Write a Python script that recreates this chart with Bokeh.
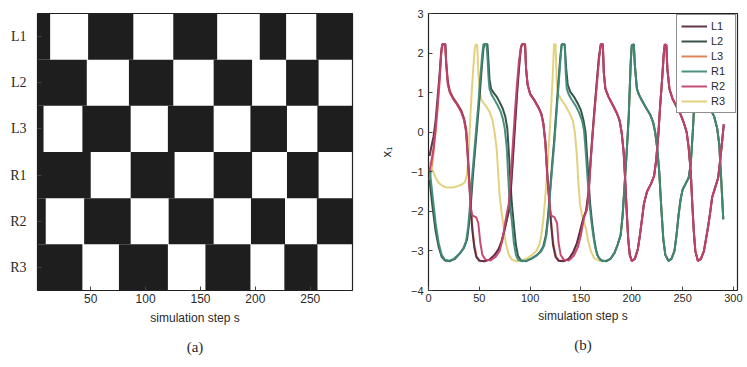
from bokeh.plotting import figure
from bokeh.layouts import row
from bokeh.models import FixedTicker, Title, Legend, LegendItem, Range1d
from bokeh.embed import file_html
from bokeh.resources import INLINE

# ---------------- panel (a): gait diagram ----------------
legs = ["L1", "L2", "L3", "R1", "R2", "R3"]
# switch points (simulation step); first interval of each row is dark
edges_L1 = [1, 13, 47.6, 88.8, 125.2, 165.2, 204, 228, 255.5, 290]
edges_L2 = [1, 46.4, 84.8, 125.2, 162, 197, 228, 257.6, 290]
edges_L3 = [1, 7, 42.4, 86.4, 120.3, 162, 195.5, 228.8, 256.5, 290]
edges_R1 = [1, 50, 86.4, 126.4, 162, 197, 228.8, 257.6, 290]
edges_R2 = [1, 9, 44, 86.4, 121, 162, 196, 227, 256, 290]
edges_R3 = [1, 42.4, 75.7, 120.3, 154.5, 195.5, 226.4, 256.6, 290]
a_xticks = [50, 100, 150, 200, 250]

# ---------------- panel (b): oscillator outputs ----------------
b_xticks = [0, 50, 100, 150, 200, 250, 300]
b_yticks = [-4, -3, -2, -1, 0, 1, 2, 3]

L1_head = [(1,-0.6),(3,-0.35),(5,-0.1),(7,0.3),(9,0.9),(11,1.5),(12.5,2.05),(13.5,2.22),(16.5,2.22),(17.5,1.7),(19,1.25),(21,1.02),(24,0.87),(28,0.72),(32,0.55),(35,0.33),(37,0.05),(38.5,-0.5),(40,-1.2),(41.5,-1.85),(43,-2.45),(45,-2.9),(47,-3.15),(50,-3.25),(55,-3.26),(60,-3.22),(65,-3.1),(69,-2.95),(72,-2.75),(75,-2.45),(77.5,-2.15),(79.5,-1.95),(81.5,-1.3),(83.5,-0.5),(85.5,0.3),(87.5,1.1),(89.5,1.75),(91,2.15),(92,2.22),(95,2.22),(96,1.6),(97.5,1.2),(100,0.97),(104,0.82),(108,0.64),(111,0.47),(113,0.22),(115,-0.25),(117,-1.1),(119,-1.8),(120.5,-2.3),(122.5,-2.85),(125,-3.15),(128,-3.25),(133,-3.26),(138,-3.2),(142,-3.05),(146,-2.8),(149,-2.5),(152,-2.2),(155,-1.98),(157.5,-1.5),(159.5,-0.7),(161.5,0.0),(163.5,0.65),(165.5,1.25),(167.5,1.85),(169.5,2.22),(171.5,2.22)]
L3_head = [(1,-1.2),(3,-0.9),(5,-0.5),(7,0.0),(9,0.6),(11,1.3),(12.5,1.95),(14,2.22),(16.5,2.22),(17.5,1.75),(19,1.3),(21,1.05),(24,0.88),(28,0.73),(32,0.56),(35,0.35),(37,0.08),(38.5,-0.45),(40,-1.1),(41.5,-1.8),(43,-2.35),(45,-2.85),(47.5,-3.15),(51,-3.25),(56,-3.26),(61,-3.2),(66,-3.08),(70,-2.9),(73,-2.65),(76,-2.35),(78.5,-2.05),(80.5,-1.6),(82.5,-0.8),(84.5,0.0),(86.5,0.8),(88.5,1.5),(90.5,2.05),(92,2.22),(95,2.22),(96,1.6),(97.5,1.2),(100,0.97),(104,0.82),(108,0.64),(111,0.47),(113,0.22),(115,-0.25),(117,-1.1),(119,-1.75),(121,-2.35),(123,-2.85),(125.5,-3.15),(129,-3.25),(134,-3.25),(139,-3.18),(143,-3.02),(147,-2.75),(150,-2.45),(153,-2.15),(155.5,-1.97),(157.5,-1.45),(159.5,-0.7),(161.5,0.0),(163.5,0.65),(165.5,1.25),(167.5,1.85),(169.5,2.22),(171.5,2.22)]
R2_head = [(1,-1.0),(3,-0.7),(5,-0.4),(7,0.1),(9,0.7),(11,1.4),(12.5,2.0),(13.5,2.22),(16.5,2.22),(17.5,1.7),(19,1.2),(21,1.0),(24,0.85),(28,0.7),(32,0.52),(35,0.3),(37,0.0),(38.5,-0.6),(40,-1.3),(41.5,-1.9),(43,-2.1),(47,-2.15),(49,-2.3),(51,-2.8),(53,-3.1),(56,-3.22),(61,-3.24),(66,-3.15),(70,-3.0),(73,-2.7),(75,-2.35),(77,-2.05),(79,-1.8),(81,-1.1),(83,-0.3),(85,0.5),(87,1.2),(89,1.8),(91,2.15),(92,2.22),(95,2.22),(96,1.6),(97.5,1.2),(100,0.95),(104,0.8),(108,0.62),(111,0.45),(113,0.2),(115,-0.3),(117,-1.2),(119,-1.8),(120.5,-2.1),(124,-2.15),(126.5,-2.3),(128,-2.8),(130,-3.1),(133,-3.22),(138,-3.24),(143,-3.12),(147,-2.9),(150,-2.6),(153,-2.15),(156,-1.95),(158,-1.4),(160,-0.6),(162,0.1),(164,0.7),(166,1.3),(168,1.9),(169.5,2.22),(171.5,2.22)]
# L1, L3 and R2 coincide after step ~172
A_tail = [(172.5,1.5),(174,1.1),(177,0.9),(181,0.7),(185,0.5),(188,0.3),(190,0.0),(192,-0.5),(193.5,-1.2),(195,-2.0),(196.5,-2.7),(198,-3.1),(200,-3.25),(203,-3.2),(206,-2.95),(208,-2.6),(210,-2.2),(212,-1.8),(215,-1.5),(219,-1.3),(222,-1.1),(224,-0.7),(226,-0.1),(228,0.7),(230,1.4),(231.5,2.0),(232.5,2.22),(234,2.2),(235,1.6),(237,1.1),(240,0.85),(244,0.65),(248,0.45),(251,0.25),(254,0.0),(256,-0.4),(258,-1.0),(259.5,-1.8),(261,-2.5),(262.5,-3.0),(265,-3.25),(268,-3.2),(271,-3.0),(273,-2.7),(275,-2.4),(277,-2.05),(279,-1.65),(282,-1.4),(285,-1.15),(287,-0.7),(289,-0.2),(290.5,0.2)]

R1_head = [(1,-0.9),(4,-1.6),(7,-2.3),(10,-2.8),(13,-3.1),(16,-3.22),(20,-3.25),(25,-3.2),(30,-3.08),(34,-2.95),(37,-2.75),(39,-2.4),(41,-1.8),(43,-1.1),(45,-0.5),(47,0.1),(49,0.7),(51,1.4),(53,2.0),(54,2.22),(57,2.22),(58,1.9),(59,1.4),(60,1.1),(62,0.95),(65,0.82),(68,0.68),(71,0.52),(73,0.35),(75,0.1),(77,-0.4),(78,-0.9),(79,-1.4),(80,-1.8),(82,-2.25),(84,-2.8),(86,-3.1),(88,-3.22),(92,-3.26),(97,-3.24),(102,-3.18),(107,-3.1),(111,-3.0),(114,-2.85),(116,-2.6),(118,-2.1),(120,-1.4),(122,-0.8),(124,-0.2),(126,0.5),(128,1.2),(130,1.9),(131,2.2),(134,2.22),(135,1.5),(136,1.1),(138,0.95),(141,0.82),(145,0.66),(148,0.5),(151,0.3),(153,0.05),(155,-0.6),(156,-1.0),(158,-1.7),(160,-2.2),(162,-2.6),(164,-2.9),(166,-3.1),(169,-3.23),(174,-3.26)]
L2_head = [(1,-1.2),(4,-1.9),(7,-2.5),(10,-2.9),(13,-3.15),(16,-3.24),(21,-3.26),(26,-3.2),(31,-3.06),(35,-2.92),(38,-2.7),(40,-2.3),(42,-1.7),(44,-1.0),(46,-0.4),(48,0.2),(50,0.8),(52,1.5),(54,2.1),(55,2.22),(58,2.22),(59,1.8),(60,1.35),(61.5,1.1),(64,1.0),(67,0.9),(70,0.76),(73,0.6),(75.5,0.4),(77.5,0.1),(79,-0.5),(80.5,-1.2),(82,-1.8),(84,-2.35),(86,-2.85),(88,-3.12),(91,-3.24),(96,-3.26),(101,-3.2),(106,-3.12),(110,-3.02),(113,-2.88),(115.5,-2.6),(117.5,-2.15),(119.5,-1.5),(121.5,-0.85),(123.5,-0.25),(125.5,0.45),(127.5,1.15),(129.5,1.85),(131,2.22),(134,2.22),(135.5,1.6),(137,1.2),(139.5,1.02),(143,0.9),(147,0.72),(150,0.55),(152.5,0.3),(154.5,0.0),(156,-0.6),(157.5,-1.2),(159,-1.8),(161,-2.3),(163,-2.7),(165,-3.0),(167,-3.15),(170,-3.24),(175,-3.26)]
R3_head = [(1,-0.75),(4,-0.95),(7,-1.15),(10,-1.28),(14,-1.36),(18,-1.4),(23,-1.4),(28,-1.37),(33,-1.32),(36,-1.25),(38,-1.05),(39.5,-0.5),(41,0.3),(42.5,1.0),(44,1.6),(45.5,2.1),(46.5,2.22),(48,2.2),(49,1.5),(50.5,1.0),(52,0.82),(56,0.68),(60,0.52),(63,0.3),(65,0.0),(67,-0.4),(68.5,-1.0),(70,-1.6),(72,-2.05),(74,-2.4),(76,-2.8),(79,-3.1),(82,-3.22),(87,-3.26),(92,-3.24),(97,-3.18),(102,-3.1),(106,-3.0),(109,-2.85),(111,-2.6),(113,-2.2),(115,-1.6),(117,-0.9),(119,-0.1),(121,0.8),(122.5,1.6),(123.5,2.22),(125,2.22),(126,1.4),(127,1.0),(130,0.85),(134,0.7),(138,0.52),(142,0.3),(144,0.0),(146,-0.6),(147.5,-1.3),(149,-1.8),(151,-2.1),(153,-2.25),(155,-2.45),(157,-2.75),(160,-3.02),(163,-3.18),(167,-3.24),(172,-3.26),(177,-3.23)]
# L2, R1 and R3 coincide after step ~179
B_tail = [(179,-3.2),(183,-3.05),(186,-2.85),(189,-2.6),(191,-2.1),(193,-1.3),(195,-0.5),(197,0.4),(198,1.1),(199,1.8),(200,2.2),(202,2.22),(203,1.7),(205,1.1),(207,0.95),(210,0.8),(214,0.62),(218,0.45),(221,0.25),(223,0.0),(225,-0.4),(227,-1.0),(229,-1.9),(231,-2.7),(233,-3.1),(236,-3.25),(239,-3.2),(242,-3.0),(244,-2.6),(246,-2.1),(248,-1.7),(250,-1.45),(253,-1.3),(256,-1.15),(258,-0.8),(260,0.0),(262,1.0),(264,1.9),(266,2.22),(268,2.2),(269,1.5),(271,1.0),(274,0.75),(278,0.55),(281,0.4),(284,0.1),(286,-0.3),(288,-1.2),(290,-2.2)]

colors = {"L1": "#5a2a45", "L2": "#2e4a40", "L3": "#e08050",
          "R1": "#3f8a78", "R2": "#c2426e", "R3": "#e3cf78"}

TXT = "#2a2a2a"

# ================= figure (a) =================
pa = figure(width=375, height=367, output_backend="svg", toolbar_location=None,
            x_range=Range1d(1.5, 288.5), y_range=Range1d(0, 6),
            min_border_left=37, min_border_right=23, min_border_top=13, min_border_bottom=77)
pa.grid.visible = False
pa.outline_line_color = "#222222"
pa.outline_line_width = 1.2

all_edges = [edges_L1, edges_L2, edges_L3, edges_R1, edges_R2, edges_R3]
qL, qR, qB, qT = [], [], [], []
for i, ed in enumerate(all_edges):
    for k in range(0, len(ed) - 1, 2):
        qL.append(ed[k]); qR.append(ed[k + 1])
        qB.append(5 - i); qT.append(6 - i)
pa.quad(left=qL, right=qR, bottom=qB, top=qT, fill_color="#1e1e1e", line_color=None)

pa.xaxis.ticker = FixedTicker(ticks=a_xticks)
pa.yaxis.ticker = FixedTicker(ticks=[5.5 - i for i in range(6)])
pa.yaxis.major_label_overrides = {5.5 - i: legs[i] for i in range(6)}
for ax in (pa.xaxis, pa.yaxis):
    ax.axis_line_color = None
    ax.major_tick_in = 4
    ax.major_tick_out = 0
    ax.minor_tick_line_color = None
    ax.major_tick_line_color = "#444444"
    ax.major_label_text_color = TXT
pa.yaxis.major_label_text_font = "Liberation Serif"
pa.yaxis.major_label_text_font_size = "14px"
pa.yaxis.major_label_standoff = 11
pa.xaxis.major_label_text_font = "Liberation Sans"
pa.xaxis.major_label_text_font_size = "12px"
pa.xaxis.major_label_standoff = 3
pa.xaxis.axis_label = "simulation step s"
pa.xaxis.axis_label_text_font = "Liberation Sans"
pa.xaxis.axis_label_text_font_style = "normal"
pa.xaxis.axis_label_text_font_size = "12px"
pa.xaxis.axis_label_text_color = TXT
pa.xaxis.axis_label_standoff = 5
pa.add_layout(Title(text="(a)", align="center", text_font="Liberation Serif", standoff=18,
                    text_font_size="15px", text_font_style="normal", text_color=TXT), "below")

# ================= figure (b) =================
pb = figure(width=372, height=367, output_backend="svg", toolbar_location=None,
            x_range=Range1d(0, 304), y_range=Range1d(-4, 3),
            min_border_left=52, min_border_right=10, min_border_top=13, min_border_bottom=74)
pb.grid.visible = False
pb.outline_line_color = "#222222"
pb.outline_line_width = 1.2

series = {"L1": L1_head + A_tail, "L2": L2_head + B_tail, "L3": L3_head + A_tail,
          "R1": R1_head + B_tail, "R2": R2_head + A_tail, "R3": R3_head + B_tail}
renderers = {}
for name in ["L3", "R3", "L2", "L1", "R1", "R2"]:
    xs = [p[0] for p in series[name]]
    ys = [p[1] for p in series[name]]
    renderers[name] = pb.line(xs, ys, line_color=colors[name], line_width=2.0, line_alpha=0.95)

legend = Legend(items=[LegendItem(label=n, renderers=[renderers[n]]) for n in legs],
                location="top_right", border_line_color="#222222", border_line_width=1,
                background_fill_alpha=1.0, padding=4, spacing=1, margin=1,
                label_text_font="Liberation Sans", label_text_font_size="11px",
                label_text_color=TXT, glyph_width=26, glyph_height=14, label_height=14,
                label_standoff=4)
pb.add_layout(legend)

pb.xaxis.ticker = FixedTicker(ticks=b_xticks)
pb.yaxis.ticker = FixedTicker(ticks=b_yticks)
for ax in (pb.xaxis, pb.yaxis):
    ax.axis_line_color = None
    ax.major_tick_in = 4
    ax.major_tick_out = 0
    ax.minor_tick_line_color = None
    ax.major_tick_line_color = "#444444"
    ax.major_label_text_color = TXT
    ax.major_label_text_font = "Liberation Sans"
    ax.major_label_text_font_size = "11px"
pb.yaxis.major_label_standoff = 5
pb.xaxis.major_label_standoff = 3
pb.xaxis.axis_label = "simulation step s"
pb.xaxis.axis_label_text_font = "Liberation Sans"
pb.xaxis.axis_label_text_font_style = "normal"
pb.xaxis.axis_label_text_font_size = "12px"
pb.xaxis.axis_label_text_color = TXT
pb.xaxis.axis_label_standoff = 4
pb.yaxis.axis_label = "x₁"
pb.yaxis.axis_label_text_font = "Liberation Sans"
pb.yaxis.axis_label_text_font_style = "normal"
pb.yaxis.axis_label_text_font_size = "13px"
pb.yaxis.axis_label_text_color = TXT
pb.yaxis.axis_label_standoff = 14
pb.add_layout(Title(text="(b)", align="center", text_font="Liberation Serif", standoff=18,
                    text_font_size="15px", text_font_style="normal", text_color=TXT), "below")

layout = row(pa, pb)
open("out.html", "w").write(file_html(layout, INLINE))
